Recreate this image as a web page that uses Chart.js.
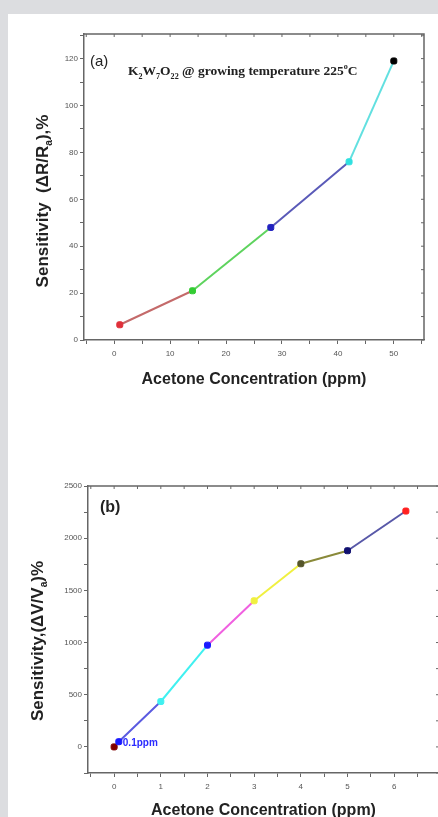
<!DOCTYPE html>
<html>
<head>
<meta charset="utf-8">
<script src="https://cdn.jsdelivr.net/npm/chart.js@4"></script>
<style>
    html, body { margin: 0; padding: 0; width: 438px; height: 817px; overflow: hidden; background: #dcdde0; }
    .panel { position: absolute; left: 8px; top: 14px; right: 0; bottom: 0; background: #fff; }
    canvas { position: absolute; }
    #chartA { left: 8px; top: 14px; }
    #chartB { left: 8px; top: 450px; }
</style>
</head>
<body>
<div class="panel"></div>
<canvas id="chartA" width="430" height="380"></canvas>
<canvas id="chartB" width="436" height="375"></canvas>
<script>
// (a) K2W7O22 sensor
const concA = [1, 14, 28, 42, 50];
const sensA = [6.5, 21, 48, 76, 119];
const pointColorsA = ['#e0303a', '#33cc33', '#2222c0', '#30e0e0', '#000000'];
const lineColorsA = ['#c46a6a', '#5ed35e', '#5a5ab8', '#62e0e0'];
const xLabelsA = [0, 10, 20, 30, 40, 50];
const yLabelsA = [0, 20, 40, 60, 80, 100, 120];

// (b)
const concB = [0, 0.1, 1, 2, 3, 4, 5, 6.25];
const sensB = [0, 50, 435, 975, 1400, 1755, 1880, 2260];
const pointColorsB = ['#800000', '#1a1aff', '#40f0f0', '#1a1aff', '#f0f040', '#55552a', '#101070', '#ff2020'];
const lineColorsB = ['#5b5be0', '#5b5be0', '#40f0f0', '#f060e0', '#f0f040', '#8a8a3a', '#5858a8'];
const xLabelsB = [0, 1, 2, 3, 4, 5, 6];
const yLabelsB = [0, 500, 1000, 1500, 2000, 2500];

const AXIS = '#666';
const TICK_FONT = { family: 'Liberation Sans, Arial', size: 8 };
const TITLE_FONT = { family: 'Liberation Sans, Arial', size: 16, weight: 'bold' };
const YTITLE_FONT = { family: 'Liberation Sans, Arial', size: 17, weight: 'bold' };

// draw a list of text runs, with sub/superscripts
function drawRuns(ctx, runs, x, y, font, align) {
    const sized = runs.map(r => {
        const size = r.sub || r.sup ? font.size * 0.6 : font.size;
        const f = `${font.weight || 'normal'} ${size}px ${font.family}`;
        ctx.font = f;
        return { ...r, f, w: ctx.measureText(r.t).width, size };
    });
    const total = sized.reduce((a, r) => a + r.w, 0);
    let cx = align === 'center' ? x - total / 2 : x;
    ctx.textBaseline = 'middle';
    ctx.textAlign = 'left';
    sized.forEach(r => {
        ctx.font = r.f;
        let dy = 0;
        if (r.sub) dy = font.size * 0.35;
        if (r.sup) dy = -font.size * 0.35;
        ctx.fillText(r.t, cx, y + dy);
        cx += r.w;
    });
}

// top and right frame with inward ticks
const framePlugin = {
    id: 'frame',
    afterDraw(chart) {
        const { ctx, chartArea: a, scales } = chart;
        ctx.save();
        ctx.strokeStyle = AXIS;
        ctx.lineWidth = 1.5;
        ctx.beginPath();
        ctx.moveTo(a.left, a.top);
        ctx.lineTo(a.right, a.top);
        ctx.lineTo(a.right, a.bottom);
        ctx.stroke();
        ctx.lineWidth = 1;
        ctx.beginPath();
        scales.x.ticks.forEach(t => {
            const px = scales.x.getPixelForValue(t.value);
            ctx.moveTo(px, a.top);
            ctx.lineTo(px, a.top + 3);
        });
        scales.y.ticks.forEach(t => {
            const py = scales.y.getPixelForValue(t.value);
            ctx.moveTo(a.right, py);
            ctx.lineTo(a.right - 3, py);
        });
        ctx.stroke();
        ctx.restore();
    }
};

const textPlugin = {
    id: 'texts',
    afterDraw(chart, args, opts) {
        const ctx = chart.ctx;
        ctx.save();
        (opts.items || []).forEach(it => {
            const pos = typeof it.at === 'function' ? it.at(chart) : it.at;
            ctx.fillStyle = it.color || '#222';
            ctx.save();
            ctx.translate(pos[0], pos[1]);
            if (it.rotate) ctx.rotate(it.rotate);
            drawRuns(ctx, it.runs, 0, 0, it.font, it.align);
            ctx.restore();
        });
        ctx.restore();
    }
};

function buildChart(id, o) {
    return new Chart(document.getElementById(id), {
        type: 'scatter',
        data: {
            datasets: [{
                data: o.x.map((v, i) => ({ x: v, y: o.y[i] })),
                showLine: true,
                borderWidth: 2,
                borderColor: o.lines[0],
                segment: { borderColor: c => o.lines[c.p0DataIndex] },
                pointStyle: 'rectRounded',
                pointRadius: 3.5,
                pointBackgroundColor: o.points,
                pointBorderColor: o.points,
                pointBorderWidth: 1
            }]
        },
        options: {
            responsive: false,
            animation: false,
            layout: { padding: o.pad },
            plugins: {
                legend: { display: false },
                tooltip: { enabled: false },
                texts: { items: o.texts }
            },
            scales: {
                x: {
                    type: 'linear',
                    min: o.xMin, max: o.xMax,
                    afterFit: s => { s.height = o.xh; },
                    ticks: {
                        stepSize: o.xStep, includeBounds: false, autoSkip: false, maxRotation: 0,
                        font: TICK_FONT, color: '#555', padding: 5,
                        callback: v => o.xLabels.includes(v) ? String(v) : ''
                    },
                    grid: { drawOnChartArea: false, tickLength: 4, tickColor: AXIS },
                    border: { color: AXIS, width: 1.5 },
                    title: {
                        display: true, text: 'Acetone Concentration (ppm)',
                        font: TITLE_FONT, color: '#222', padding: { top: 0, bottom: o.titlePad }
                    }
                },
                y: {
                    type: 'linear',
                    min: o.yMin, max: o.yMax,
                    afterFit: s => { s.width = o.yw; },
                    ticks: {
                        stepSize: o.yStep, includeBounds: false, autoSkip: false,
                        font: TICK_FONT, color: '#555', padding: 2,
                        callback: v => o.yLabels.includes(v) ? String(v) : ''
                    },
                    grid: { drawOnChartArea: false, tickLength: 4, tickColor: AXIS },
                    border: { color: AXIS, width: 1.5 }
                }
            }
        },
        plugins: [framePlugin, textPlugin]
    });
}

const SERIF = { family: 'Liberation Serif, Times New Roman', size: 13.5, weight: 'bold' };

buildChart('chartA', {
    x: concA, y: sensA, points: pointColorsA, lines: lineColorsA,
    xMin: -5.4, xMax: 55.4, xStep: 5, xLabels: xLabelsA,
    yMin: 0, yMax: 130.5, yStep: 10, yLabels: yLabelsA,
    pad: { left: 0, right: 14, top: 20, bottom: 3 }, yw: 76, xh: 51, titlePad: 2,
    texts: [
        { at: [35, 187], rotate: -Math.PI / 2, align: 'center', font: YTITLE_FONT,
          runs: [{ t: 'Sensitivity  (\u0394R/R' }, { t: 'a', sub: true }, { t: '),%' }] },
        { at: [82, 48], font: { family: 'Liberation Sans, Arial', size: 15 }, runs: [{ t: '(a)' }] },
        { at: [120, 58], font: SERIF, runs: [
            { t: 'K' }, { t: '2', sub: true }, { t: 'W' }, { t: '7', sub: true }, { t: 'O' }, { t: '22', sub: true },
            { t: ' @ growing temperature 225' }, { t: 'o', sup: true }, { t: 'C' }] }
    ]
});

buildChart('chartB', {
    x: concB, y: sensB, points: pointColorsB, lines: lineColorsB,
    xMin: -0.56, xMax: 6.96, xStep: 0.5, xLabels: xLabelsB,
    yMin: -250, yMax: 2500, yStep: 250, yLabels: yLabelsB,
    pad: { left: 0, right: 1, top: 36, bottom: 0 }, yw: 80, xh: 52, titlePad: 5,
    texts: [
        { at: [30, 191], rotate: -Math.PI / 2, align: 'center', font: YTITLE_FONT,
          runs: [{ t: 'Sensitivity,(\u0394V/V' }, { t: 'a', sub: true }, { t: ')%' }] },
        { at: [92, 58], font: TITLE_FONT, runs: [{ t: '(b)' }] },
        { at: c => [c.scales.x.getPixelForValue(concB[1]) + 4, c.scales.y.getPixelForValue(sensB[1]) + 2],
          color: '#2a2aff', font: { family: 'Liberation Sans, Arial', size: 10, weight: 'bold' },
          runs: [{ t: '0.1ppm' }] }
    ]
});
</script>
</body>
</html>
